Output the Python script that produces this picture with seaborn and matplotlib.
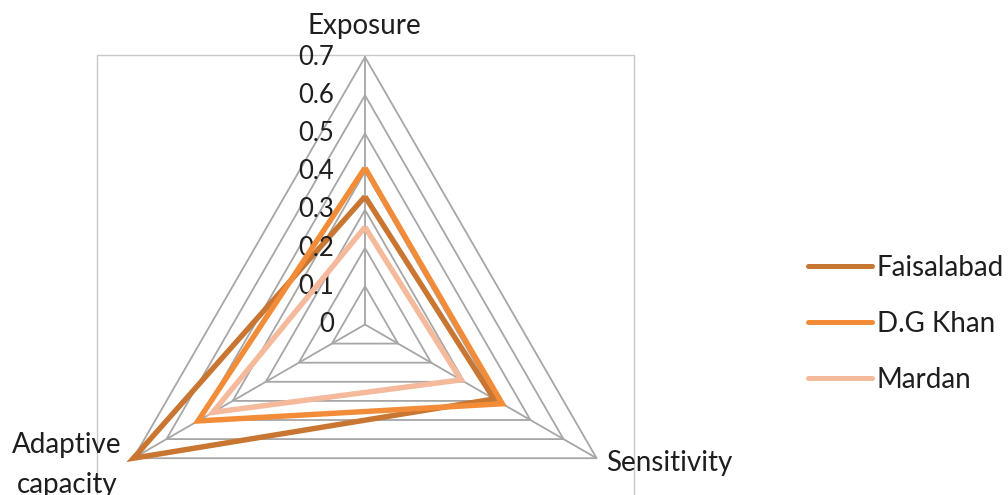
import numpy as np
import pandas as pd
import matplotlib
matplotlib.use("Agg")
import matplotlib.pyplot as plt
import seaborn as sns

# ---- data ----
axes_labels = ["Exposure", "Sensitivity", "Adaptive\ncapacity"]
districts = ["Faisalabad", "D.G Khan", "Mardan"]
faisalabad = [0.335, 0.39, 0.70]
dg_khan = [0.41, 0.415, 0.505]
mardan = [0.255, 0.29, 0.46]
tick_values = [0, 0.1, 0.2, 0.3, 0.4, 0.5, 0.6, 0.7]
tick_labels = ["0", "0.1", "0.2", "0.3", "0.4", "0.5", "0.6", "0.7"]

colors = {"Faisalabad": "#C87632", "D.G Khan": "#F28C38", "Mardan": "#F5B99B"}

sns.set_style("white")
plt.rcParams["font.family"] = ["Lato", "DejaVu Sans"]

W, H, DPI = 1008, 495, 100
fig = plt.figure(figsize=(W / DPI, H / DPI), dpi=DPI)
ax = fig.add_axes([0, 0, 1, 1])

# chart geometry (pixels) -> data units
cx, cy, scale = 365.0, 324.5, 382.0
ax.set_xlim(-cx / scale, (W - cx) / scale)
ax.set_ylim(-(H - cy) / scale, cy / scale)
ax.axis("off")

def to_xy(px, py):
    return (px - cx) / scale, (cy - py) / scale

# spoke angles: Exposure up, Sensitivity lower right, Adaptive capacity lower left
angles = np.deg2rad([90, -30, 210])

def polar_xy(values):
    v = np.asarray(values, dtype=float)
    vv = np.append(v, v[0])
    aa = np.append(angles, angles[0])
    return vv * np.cos(aa), vv * np.sin(aa)

grid_color = "#A6A6A6"
# triangular grid rings
for lv in tick_values[1:]:
    gx, gy = polar_xy([lv] * 3)
    ax.plot(gx, gy, color=grid_color, lw=1.3, zorder=1, solid_joinstyle="miter")
# spokes
rmax = tick_values[-1]
for a in angles:
    ax.plot([0, rmax * np.cos(a)], [0, rmax * np.sin(a)], color=grid_color, lw=1.3, zorder=1)

# plot-area frame
bx0, by0 = to_xy(97, 55)
bx1, _ = to_xy(634, 55)
_, by_bot = to_xy(0, 520)
ax.plot([bx0, bx0, bx1, bx1], [by_bot, by0, by0, by_bot], color="#C8C8C8", lw=1.0, zorder=0)

# series
series = {"Faisalabad": faisalabad, "D.G Khan": dg_khan, "Mardan": mardan}
frames = []
for name in districts:
    sx, sy = polar_xy(series[name])
    frames.append(pd.DataFrame({"x": sx, "y": sy, "district": name, "order": range(len(sx))}))
df = pd.concat(frames, ignore_index=True)

for i, name in enumerate(districts):
    sub = df[df["district"] == name]
    sns.lineplot(data=sub, x="x", y="y", sort=False, estimator=None, color=colors[name],
                 lw=3.9, ax=ax, zorder=3 + i, label=name, legend=False)
for ln in ax.lines[-3:]:
    ln.set_solid_joinstyle("miter")
    ln.set_solid_capstyle("butt")

text_color = "#1E1E1E"

# radial tick labels
lx, _ = to_xy(334, 0)
for v, t in zip(tick_values, tick_labels):
    ax.text(lx, v, t, ha="right", va="center", fontsize=18.5, color=text_color)

# axis labels
ex, ey = to_xy(364, 26)
ax.text(ex, ey, axes_labels[0], ha="center", va="center", fontsize=20, color=text_color)
sx_, sy_ = to_xy(606, 463)
ax.text(sx_, sy_, axes_labels[1], ha="left", va="center", fontsize=20, color=text_color)
ax_, ay_ = to_xy(67, 465)
ax.text(ax_, ay_, axes_labels[2], ha="center", va="center", fontsize=20, color=text_color,
        linespacing=1.62)

# legend
handles = ax.lines[-3:]
leg = ax.legend(handles=handles, labels=districts, loc="center left",
                bbox_to_anchor=(808 / W, 1 - 323.5 / H), bbox_transform=fig.transFigure,
                frameon=False, fontsize=20, handlelength=2.3, handletextpad=0.18,
                labelspacing=1.08, borderpad=0, borderaxespad=0)
for t in leg.get_texts():
    t.set_color(text_color)
for lh in leg.get_lines():
    lh.set_linewidth(3.6)
    lh.set_solid_capstyle("round")

fig.savefig("out.png", dpi=DPI)
